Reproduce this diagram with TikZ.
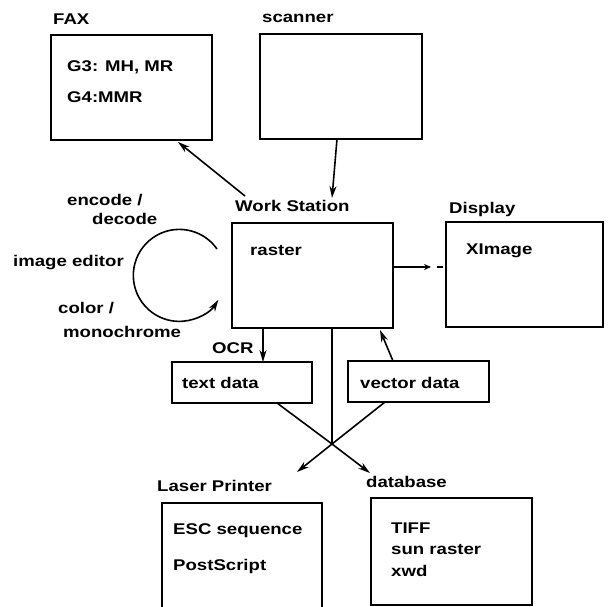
\documentclass[tikz,border=0pt]{standalone}
\usepackage{fontspec}
\setmainfont{Liberation Sans}[FakeStretch=1.2]
\usetikzlibrary{arrows.meta}
\begin{document}
\begin{tikzpicture}[x=1pt,y=-1pt,
  box/.style={draw,line width=1.8pt,inner sep=0pt},
  lbl/.style={anchor=base west,inner sep=0pt,font=\fontsize{15.5}{18}\selectfont\bfseries},
  conn/.style={line width=1.6pt},
  arr/.style={conn,-{Stealth[length=12pt,width=7pt]}},
  sarr/.style={conn,-{Stealth[length=7pt,width=6pt]}}]
\useasboundingbox (0,0) rectangle (610,607);
\clip (0,0) rectangle (610,607);
% boxes
\node[box,minimum width=161pt,minimum height=105pt] (fax) at (131.5,87.5) {};
\node[box,minimum width=162pt,minimum height=105pt] (scanner) at (341,86.5) {};
\node[box,minimum width=161pt,minimum height=105pt] (ws) at (312.5,275.5) {};
\node[box,minimum width=157pt,minimum height=105pt] (display) at (524.5,274.5) {};
\node[box,minimum width=140pt,minimum height=41pt] (text) at (242,382.5) {};
\node[box,minimum width=141pt,minimum height=41pt] (vector) at (418.5,381.5) {};
\node[box,minimum width=160pt,minimum height=117pt] (laser) at (242,561.5) {};
\node[box,minimum width=161pt,minimum height=107pt] (db) at (451.5,551.5) {};
% labels
\node[lbl] (faxl) at (53,25) {FAX};
\node[lbl] (g3) at (67,72) {G3: MH, MR};
\node[lbl] (g4) at (67,103) {G4:MMR};
\node[lbl] (scl) at (262,23) {scanner};
\node[lbl] (wsl) at (235,211.5) {Work Station};
\node[lbl] (raster) at (250,255) {raster};
\node[lbl] (displ) at (449,213) {Display};
\node[lbl] (ximage) at (466,254) {XImage};
\node[lbl] (enc) at (67,205) {encode /};
\node[lbl] (dec) at (92,224) {decode};
\node[lbl] (ied) at (13,266) {image editor};
\node[lbl] (col) at (58,313) {color /};
\node[lbl] (mono) at (63,337) {monochrome};
\node[lbl] (ocr) at (212,353) {OCR};
\node[lbl] (textl) at (182,388) {text data};
\node[lbl] (vecl) at (360,388) {vector data};
\node[lbl] (laserl) at (157,491) {Laser Printer};
\node[lbl] (dbl) at (366,487) {database};
\node[lbl] (esc) at (173,534) {ESC sequence};
\node[lbl] (ps) at (173,570) {PostScript};
\node[lbl] (tiff) at (391,533) {TIFF};
\node[lbl] (sun) at (391,554) {sun raster};
\node[lbl] (xwd) at (391,576) {xwd};
% connector coordinates
\coordinate (wsfax) at (245,196);
\coordinate (faxin) at (178,142);
\coordinate (scout) at (337,139);
\coordinate (wsin) at (332,198);
\coordinate (dispa) at (431,267);
\coordinate (dashA) at (437,267);
\coordinate (dashB) at (443,267);
\coordinate (wsout) at (393,267);
\coordinate (ocrA) at (263,328);
\coordinate (ocrB) at (263,362);
\coordinate (vecA) at (393,361);
\coordinate (vecB) at (380,330);
\coordinate (vertA) at (332,328);
\coordinate (cross) at (332,444);
\coordinate (textout) at (277,403);
\coordinate (vecout) at (385,402);
\coordinate (dbin) at (370,473);
\coordinate (lpin) at (297,472);
\coordinate (loopstart) at (217,249);
% connectors
\draw[arr] (wsfax) -- (faxin);
\draw[arr] (scout) -- (wsin);
\draw[sarr] (wsout) -- (dispa);
\draw[conn] (dashA) -- (dashB);
\draw[arr] (ocrA) -- (ocrB);
\draw[arr] (vecA) -- (vecB);
\draw[conn] (vertA) -- (cross);
\draw[arr] (textout) -- (cross) -- (dbin);
\draw[arr] (vecout) -- (cross) -- (lpin);
\draw[arr] (loopstart) arc[start angle=35,end angle=328,radius=46pt];
\end{tikzpicture}
\end{document}
